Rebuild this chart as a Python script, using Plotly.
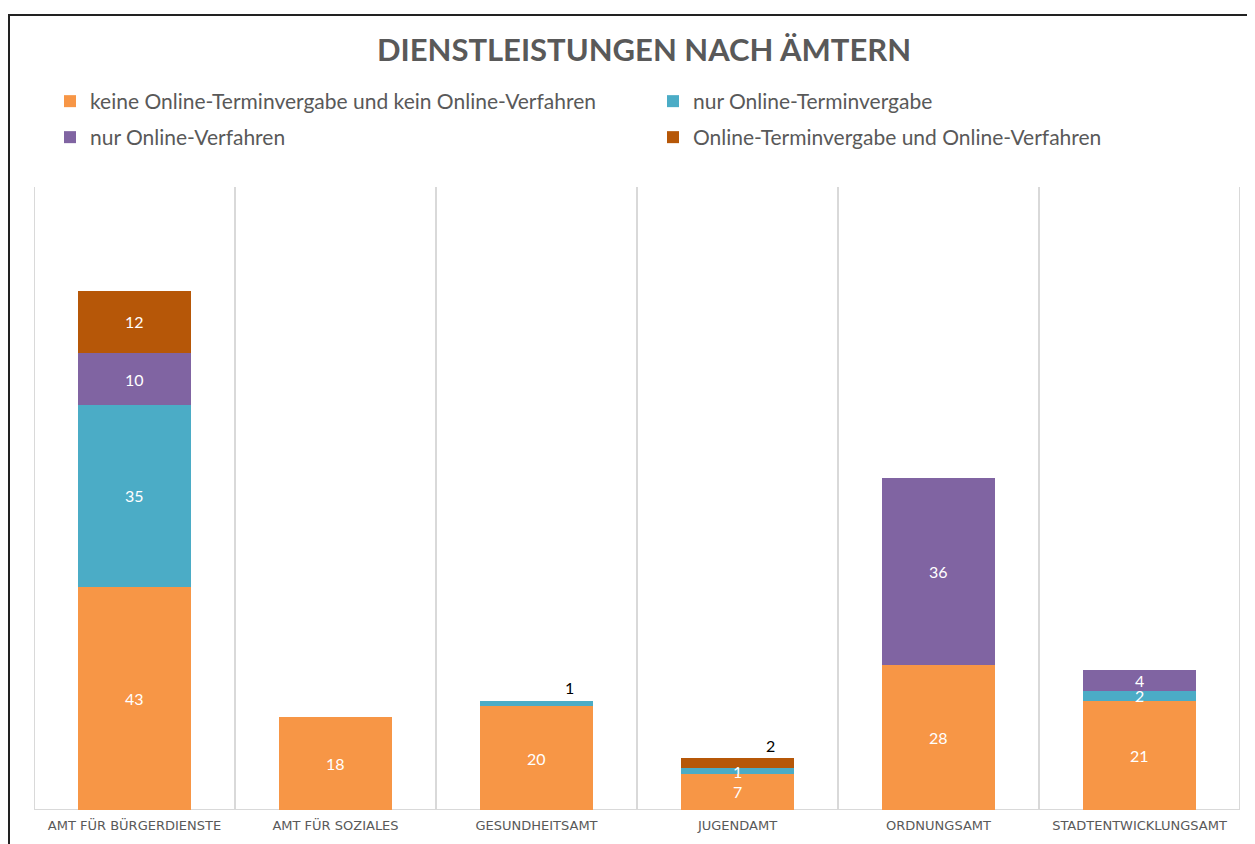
import plotly.graph_objects as go

categories = ["AMT FÜR BÜRGERDIENSTE", "AMT FÜR SOZIALES", "GESUNDHEITSAMT",
              "JUGENDAMT", "ORDNUNGSAMT", "STADTENTWICKLUNGSAMT"]
series_names = ["keine Online-Terminvergabe und kein Online-Verfahren",
                "nur Online-Terminvergabe",
                "nur Online-Verfahren",
                "Online-Terminvergabe und Online-Verfahren"]
keine = [43, 18, 20, 7, 28, 21]
nur_termin = [35, 0, 1, 1, 0, 2]
nur_verfahren = [10, 0, 0, 0, 36, 4]
beide = [12, 0, 0, 2, 0, 0]
colors = ["#F79646", "#4BACC6", "#8064A2", "#B65708"]

series = [keine, nur_termin, nur_verfahren, beide]
legend_ids = ["legend", "legend2", "legend3", "legend4"]
FONT = "Lato, Open Sans, sans-serif"

W, H = 1247, 836
L, R, T, B = 26, 15, 179, 34
PW, PH = W - L - R, H - T - B

fig = go.Figure()
for name, vals, col, lg in zip(series_names, series, colors, legend_ids):
    fig.add_trace(go.Bar(x=categories, y=vals, name=name, legend=lg,
                         marker=dict(color=col, line=dict(width=0))))

# data labels
annotations = []
n = len(categories)
for i in range(n):
    base = 0
    seg = [s[i] for s in series]
    top_idx = max(k for k in range(4) if seg[k] > 0)
    for k in range(4):
        v = seg[k]
        if v <= 0:
            continue
        if k == top_idx and v <= 2 and k > 0:
            annotations.append(dict(x=categories[i], y=base + v, text=str(v), showarrow=False,
                                    xshift=33, yshift=13, font=dict(family=FONT, size=16, color="#000000")))
        else:
            annotations.append(dict(x=categories[i], y=base + v / 2, text=str(v), showarrow=False,
                                    font=dict(family=FONT, size=16, color="#FFFFFF")))
        base += v

shapes = []
for i in range(n + 1):
    shapes.append(dict(type="line", xref="x", yref="paper", x0=i - 0.5, x1=i - 0.5, y0=0, y1=1,
                       line=dict(color="#D9D9D9", width=2), layer="below"))
shapes.append(dict(type="line", xref="paper", yref="y", x0=0, x1=1, y0=0, y1=0,
                   line=dict(color="#D9D9D9", width=2), layer="below"))
# outer chart border
shapes.append(dict(type="rect", xref="paper", yref="paper",
                   x0=(1 - L) / PW, x1=(W + 10 - L) / PW,
                   y0=(T + PH - H - 10) / PH, y1=(T + PH - 7) / PH,
                   line=dict(color="#222222", width=2), fillcolor="rgba(0,0,0,0)"))

def leg(xpx, ypx):
    return dict(orientation="h", x=(xpx - L) / PW, xanchor="left",
                y=(T + PH - ypx) / PH, yanchor="top",
                font=dict(family=FONT, size=21, color="#595959"),
                bgcolor="rgba(0,0,0,0)")

fig.update_layout(
    width=W, height=H,
    barmode="stack", bargap=0.44,
    paper_bgcolor="white", plot_bgcolor="white",
    margin=dict(l=L, r=R, t=T, b=B),
    title=dict(text="<b>DIENSTLEISTUNGEN NACH ÄMTERN</b>", x=636 / W, xanchor="center",
               y=1 - 42 / H, yanchor="middle",
               font=dict(family=FONT, size=31, color="#595959")),
    legend=leg(42, 73),
    legend2=leg(645, 73),
    legend3=leg(42, 109),
    legend4=leg(645, 109),
    xaxis=dict(type="category", showgrid=False, showline=False, ticks="",
               ticklabelstandoff=6,
               tickfont=dict(family="DejaVu Sans", size=13, color="#595959"), range=[-0.5, n - 0.5]),
    yaxis=dict(range=[0, 120], visible=False, showgrid=False),
    annotations=annotations, shapes=shapes,
    showlegend=True,
)

fig.write_html("out.html")
